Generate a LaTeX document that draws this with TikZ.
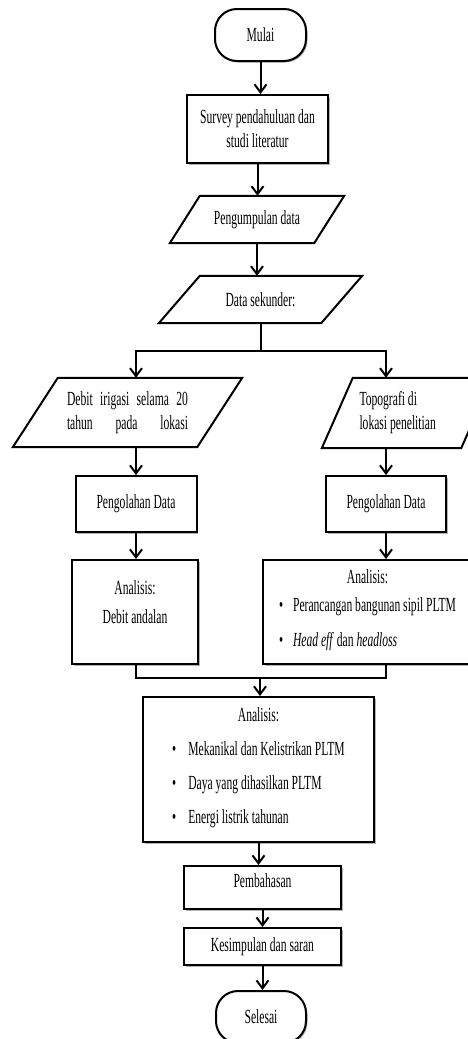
\documentclass[tikz,border=0pt]{standalone}
\usepackage{fontspec}
\setmainfont{Liberation Serif}[FakeStretch=0.58]
\usepackage{tikz}
\usetikzlibrary{arrows.meta,shadows}

\begin{document}
\begin{tikzpicture}[x=1pt,y=-1pt]
  \tikzset{every node/.style = {font=\fontsize{20}{24}\selectfont}}
  \tikzset{box/.style = {draw, line width=2pt, fill=white, inner sep=2pt,
      drop shadow={shadow xshift=1.5pt,shadow yshift=-1.5pt,fill=black,opacity=0.3}}}
  \tikzset{terminal/.style = {box, rounded corners=22pt}}
  \tikzset{iobox/.style = {inner sep=0pt}}
  \tikzset{edge/.style = {line width=2pt}}
  \tikzset{arrow/.style = {edge, -{Straight Barb[length=8pt,width=12pt]}}}

  \useasboundingbox (0,0) rectangle (468,1039);
  \clip (0,0) rectangle (468,1039);

  % vertices
  \node[terminal, minimum width=91pt, minimum height=52pt] (mulai) at (260.5,35) {Mulai};
  \node[box, minimum width=141pt, minimum height=68pt, align=center] (survey) at (257.5,129)
    {Survey pendahuluan dan\\studi literatur};
  \node[iobox, minimum width=174pt, minimum height=47pt] (kumpul) at (257,219.5) {Pengumpulan data};
  \node[iobox, minimum width=203pt, minimum height=47pt] (sekunder) at (260.5,299.5) {Data sekunder:};
  \node[iobox, minimum width=229pt, minimum height=69pt, align=center] (debit) at (127.5,412.5)
    {\makebox[121pt][s]{Debit irigasi selama 20}\\\makebox[121pt][s]{tahun pada lokasi}};
  \node[iobox, minimum width=170pt, minimum height=70pt, text width=95pt, align=flush left] (topo) at (407,413)
    {Topografi di\\lokasi penelitian};
  \node[box, minimum width=121pt, minimum height=56pt] (olah1) at (136,504) {Pengolahan Data};
  \node[box, minimum width=120pt, minimum height=56pt] (olah2) at (386,504) {Pengolahan Data};
  \node[box, minimum width=126pt, minimum height=104pt, align=center] (andal) at (135,612)
    {Analisis:\\[5pt]Debit andalan\\[-4pt]\mbox{}};
  \node[box, minimum width=209pt, minimum height=104pt, align=center] (sipil) at (367.5,612)
    {Analisis:\\[4pt]\begin{tabular}[t]{@{}l@{}}
      \textbullet\hspace{10pt}Perancangan bangunan sipil PLTM\\[11pt]
      \textbullet\hspace{10pt}\textit{Head eff} dan \textit{headloss}\end{tabular}};
  \node[box, minimum width=231pt, minimum height=145pt, align=center] (analisis) at (258.5,769.5)
    {Analisis:\\[10pt]\begin{tabular}[t]{@{}l@{}}
      \textbullet\hspace{12pt}Mekanikal dan Kelistrikan PLTM\\[10pt]
      \textbullet\hspace{12pt}Daya yang dihasilkan PLTM\\[10pt]
      \textbullet\hspace{12pt}Energi listrik tahunan\end{tabular}};
  \node[box, minimum width=157pt, minimum height=43pt, text depth=13pt] (bahas) at (262.5,887.5) {Pembahasan};
  \node[box, minimum width=157pt, minimum height=37pt] (simpul) at (262.5,946.5) {Kesimpulan dan saran};
  \node[terminal, minimum width=90pt, minimum height=52pt] (selesai) at (261,1017) {Selesai};

  % data shapes
  \foreach \n/\s in {kumpul/30,sekunder/41,debit/45,topo/31}
  {
    \draw[edge] ([xshift=\s]\n.north west) -- (\n.north east) -- ([xshift=-\s]\n.south east)
      -- (\n.south west) -- cycle;
  }

  % edges
  \foreach \a/\b in {mulai/survey,survey/kumpul,kumpul/sekunder,analisis/bahas,bahas/simpul,simpul/selesai}
  {\draw[arrow] (\a.south) -- (\a.south |- \b.north);}

  \coordinate (cabang) at (260.5,351);
  \draw[edge] (sekunder.south) -- (cabang);
  \draw[arrow] (cabang) -| (olah1 |- debit.north);
  \draw[arrow] (cabang) -| (olah2 |- topo.north);
  \draw[arrow] (olah1 |- debit.south) -- (olah1.north);
  \draw[arrow] (olah2 |- topo.south) -- (olah2.north);
  \draw[arrow] (olah1.south) -- (olah1.south |- andal.north);
  \draw[arrow] (olah2.south) -- (olah2.south |- sipil.north);

  \coordinate (gabung) at (260,678);
  \draw[edge] (olah1 |- andal.south) |- (gabung) -| (olah2 |- sipil.south);
  \draw[arrow] (gabung) -- (gabung |- analisis.north);

\end{tikzpicture}
\end{document}
